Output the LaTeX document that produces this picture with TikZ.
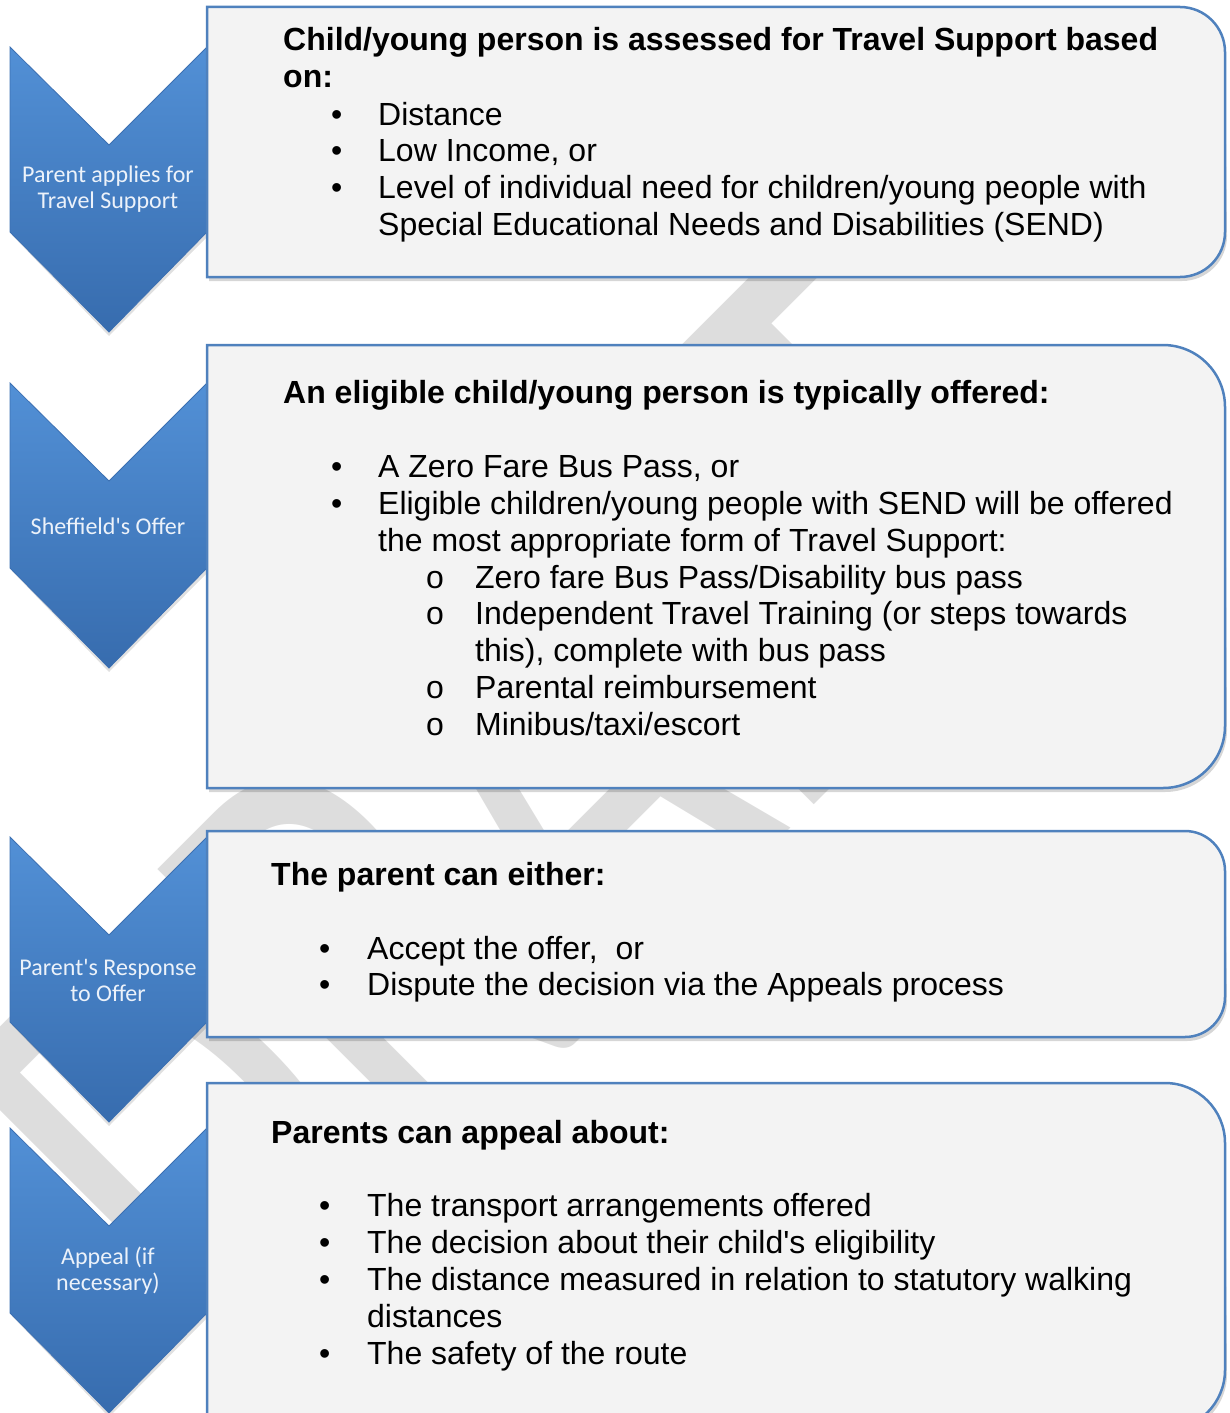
\documentclass[tikz,border=0pt]{standalone}
\usepackage{fontspec}
\usepackage{graphicx}
\setmainfont{Liberation Sans}[Ligatures=TeXOff]
\newfontfamily\chevfont{Carlito}[Ligatures=TeXOff]
\definecolor{boxblue}{RGB}{79,129,189}
\definecolor{boxfill}{RGB}{243,243,243}
\definecolor{chevtop}{RGB}{82,144,214}
\definecolor{chevbot}{RGB}{55,108,174}
\definecolor{chevedge}{RGB}{60,112,178}
\definecolor{wmgray}{RGB}{221,221,221}
\definecolor{chevtext}{RGB}{236,242,250}
\newcommand\bitem[2]{\makebox[#1][l]{\textbullet}#2}
\newcommand\oitem[1]{\makebox[49pt][l]{o}#1}
\tikzset{
  boxshape/.style={draw=boxblue, line width=2.5pt, fill=boxfill},
  boxshadow/.style={fill=black, opacity=0.16},
  chev/.style={top color=chevtop, bottom color=chevbot, draw=chevedge, line width=0.8pt},
  chevlabel/.style={font=\chevfont\fontsize{24}{26}\selectfont, text=chevtext, align=center, inner sep=0},
  head/.style={anchor=base west, font=\bfseries\fontsize{32}{37}\selectfont, inner sep=0},
  txt/.style={anchor=base west, font=\fontsize{32}{37}\selectfont, inner sep=0},
  wm/.style={anchor=base west, rotate=45, font=\chevfont\fontsize{456}{456}\selectfont, text=wmgray, inner sep=0}
}
\begin{document}
\begin{tikzpicture}[x=1pt,y=-1pt]
\useasboundingbox (0,0) rectangle (1229,1413);
% watermark
\node[wm] (wm) at (232,1387) {\scalebox{1}[1.43]{DRAFT}};
% chevrons
\foreach \y in {47,383,837,1128} {
  \fill[black,opacity=0.12] (12,\y+3) -- (109,\y+101) -- (209,\y+3) -- (209,\y+188) -- (109,\y+289) -- (12,\y+188) -- cycle;
  \path[chev] (10,\y) -- (109,\y+98) -- (207,\y) -- (207,\y+185) -- (109,\y+285) -- (10,\y+185) -- cycle;
}
% boxes: shadows then boxes
\foreach \t/\b/\r in {7/277/45, 345/788/62, 831/1037/40, 1083/1430/60} {
  \fill[boxshadow] (209,\t+4) -- (1225-\r,\t+4) arc[start angle=270,end angle=360,radius=\r] -- (1227,\b+4-\r) arc[start angle=0,end angle=90,radius=\r] -- (209,\b+4) -- cycle;
  \path[boxshape] (207,\t) -- (1225-\r,\t) arc[start angle=270,end angle=360,radius=\r] -- (1225,\b-\r) arc[start angle=0,end angle=90,radius=\r] -- (207,\b) -- cycle;
}
% chevron labels
\node[chevlabel] (c1) at (108,189) {Parent applies for\\Travel Support};
\node[chevlabel] (c2) at (108,526) {Sheffield's Offer};
\node[chevlabel] (c3) at (108,980) {Parent's Response\\to Offer};
\node[chevlabel] (c4) at (108,1271) {Appeal (if\\necessary)};
% box 1
\node[head] (h1a) at (283,51) {Child/young person is assessed for Travel Support based};
\node[head] (h1b) at (283,88) {on:};
\node[txt] (t1a) at (331,125) {\bitem{47pt}{Distance}};
\node[txt] (t1b) at (331,161) {\bitem{47pt}{Low Income, or}};
\node[txt] (t1c) at (331,198) {\bitem{47pt}{Level of individual need for children/young people with}};
\node[txt] (t1d) at (378,235) {Special Educational Needs and Disabilities (SEND)};
% box 2
\node[head] (h2) at (283,403) {An eligible child/young person is typically offered:};
\node[txt] (t2a) at (331,477) {\bitem{47pt}{A Zero Fare Bus Pass, or}};
\node[txt] (t2b) at (331,514) {\bitem{47pt}{Eligible children/young people with SEND will be offered}};
\node[txt] (t2c) at (378,551) {the most appropriate form of Travel Support:};
\node[txt] (s2a) at (426,588) {\oitem{Zero fare Bus Pass/Disability bus pass}};
\node[txt] (s2b) at (426,624) {\oitem{Independent Travel Training (or steps towards}};
\node[txt] (s2c) at (475,661) {this), complete with bus pass};
\node[txt] (s2d) at (426,698) {\oitem{Parental reimbursement}};
\node[txt] (s2e) at (426,735) {\oitem{Minibus/taxi/escort}};
% box 3
\node[head] (h3) at (271,885) {The parent can either:};
\node[txt] (t3a) at (319,959) {\bitem{48pt}{Accept the offer,\ \ or}};
\node[txt] (t3b) at (319,995) {\bitem{48pt}{Dispute the decision via the Appeals process}};
% box 4
\node[head] (h4) at (271,1143) {Parents can appeal about:};
\node[txt] (t4a) at (319,1216) {\bitem{48pt}{The transport arrangements offered}};
\node[txt] (t4b) at (319,1253) {\bitem{48pt}{The decision about their child's eligibility}};
\node[txt] (t4c) at (319,1290) {\bitem{48pt}{The distance measured in relation to statutory walking}};
\node[txt] (t4d) at (367,1327) {distances};
\node[txt] (t4e) at (319,1364) {\bitem{48pt}{The safety of the route}};
\end{tikzpicture}
\end{document}
